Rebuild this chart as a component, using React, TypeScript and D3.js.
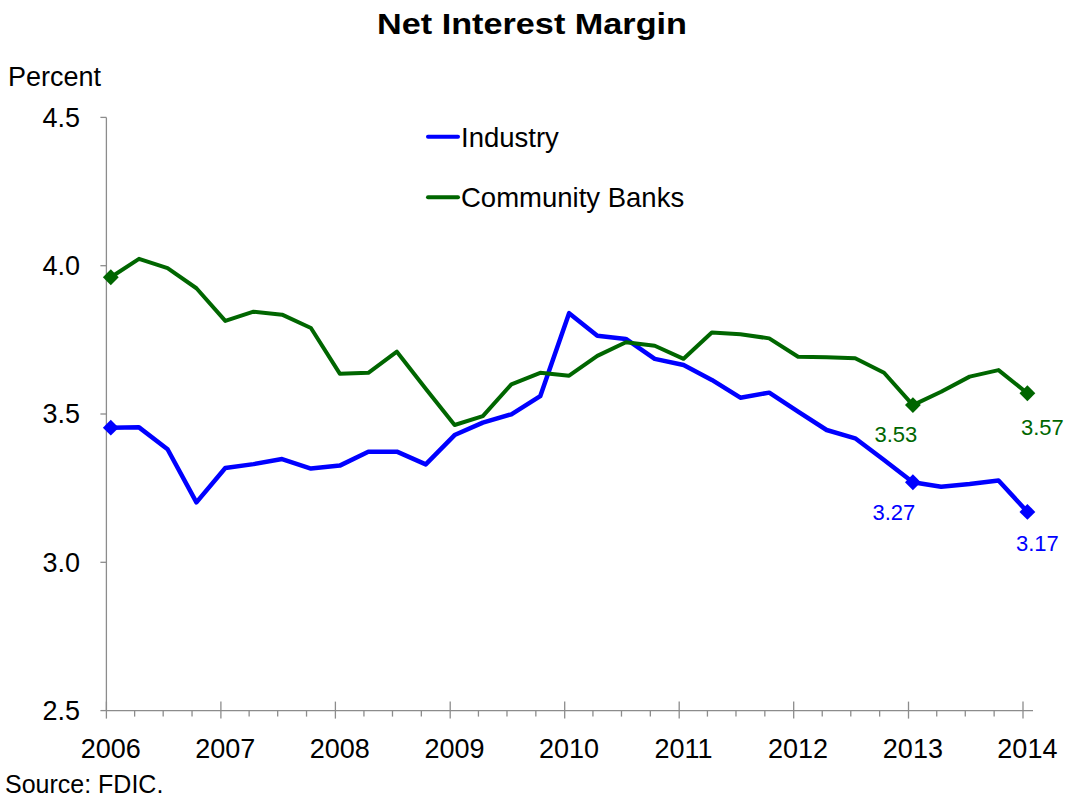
import React from "react";
import * as d3 from "d3";

const quarters: string[] = [
  "2006-01-15","2006-04-15","2006-07-15","2006-10-15",
  "2007-01-15","2007-04-15","2007-07-15","2007-10-15",
  "2008-01-15","2008-04-15","2008-07-15","2008-10-15",
  "2009-01-15","2009-04-15","2009-07-15","2009-10-15",
  "2010-01-15","2010-04-15","2010-07-15","2010-10-15",
  "2011-01-15","2011-04-15","2011-07-15","2011-10-15",
  "2012-01-15","2012-04-15","2012-07-15","2012-10-15",
  "2013-01-15","2013-04-15","2013-07-15","2013-10-15",
  "2014-01-15",
];

const industry: number[] = [
  3.454, 3.455, 3.381, 3.202, 3.318, 3.331, 3.348, 3.316,
  3.326, 3.373, 3.373, 3.330, 3.429, 3.471, 3.499, 3.560,
  3.840, 3.764, 3.753, 3.686, 3.665, 3.615, 3.555, 3.572,
  3.508, 3.446, 3.418, 3.345, 3.27, 3.255, 3.264, 3.276,
  3.17,
];

const community: number[] = [
  3.961, 4.023, 3.992, 3.924, 3.814, 3.845, 3.835, 3.790,
  3.636, 3.639, 3.710, 3.585, 3.463, 3.493, 3.600, 3.639,
  3.629, 3.696, 3.742, 3.730, 3.686, 3.775, 3.769, 3.755,
  3.693, 3.691, 3.688, 3.639, 3.53, 3.575, 3.626, 3.648,
  3.57,
];

const yTicks: number[] = [2.5, 3.0, 3.5, 4.0, 4.5];
const xYears: number[] = [2006, 2007, 2008, 2009, 2010, 2011, 2012, 2013, 2014];
const markerIdx: number[] = [0, 28, 32];
const labelIdx: number[] = [28, 32];

const BLUE = "#0000ff";
const GREEN = "#006600";
const AXIS = "#8c8c8c";
const FONT = "'Liberation Sans', Arial, Helvetica, sans-serif";

export default function App() {
  const W = 1067, H = 798;
  const parse = d3.timeParse("%Y-%m-%d");
  const dates = quarters.map((q) => parse(q) as Date);
  const x = d3
    .scaleTime()
    .domain([new Date(2006, 0, 1), new Date(2014, 0, 1)])
    .range([106.4, 1023]);
  const y = d3.scaleLinear().domain([2.5, 4.5]).range([710.6, 117.4]);
  const fmt = d3.format(".2f");
  const fmtY = d3.format(".1f");

  const line = d3
    .line<number>()
    .x((_, i) => x(dates[i]))
    .y((d) => y(d));

  const minorTicks = d3.timeMonth
    .every(3)!
    .range(new Date(2006, 0, 1), new Date(2014, 0, 2))
    .filter((d) => d.getMonth() !== 0);

  const diamond = d3.symbol().type(d3.symbolDiamond2).size(160)();

  const series = [
    { name: "Industry", values: industry, color: BLUE, width: 4.5,
      labelDx: [0, -19, 10], labelDy: [0, 38, 39.5] },
    { name: "Community Banks", values: community, color: GREEN, width: 4,
      labelDx: [0, -17, 15], labelDy: [0, 37, 42] },
  ];

  const x0 = x(new Date(2006, 0, 1));
  const xEnd = x(new Date(2014, 0, 1)) + 10;
  const yBottom = y(2.5);

  return (
    <svg
      width={W}
      height={H}
      style={{ position: "fixed", left: 0, top: 0, background: "#fff" }}
      fontFamily={FONT}
    >
      <rect width={W} height={H} fill="#fff" />
      <text x={532} y={34} textAnchor="middle" fontWeight="bold" fontSize={30}
        textLength={310} lengthAdjust="spacingAndGlyphs" fill="#000">
        Net Interest Margin
      </text>
      <text x={8} y={86} fontSize={27} fill="#000">Percent</text>

      {/* y axis */}
      <line x1={x0} x2={x0} y1={y(4.5)} y2={yBottom} stroke={AXIS} strokeWidth={1.3} />
      {yTicks.map((t) => (
        <g key={t}>
          <line x1={x0 - 6} x2={x0} y1={y(t)} y2={y(t)} stroke={AXIS} strokeWidth={1.3} />
          <text x={80} y={y(t)} dy="0.35em" textAnchor="end" fontSize={27} fill="#000">
            {fmtY(t)}
          </text>
        </g>
      ))}

      {/* x axis */}
      <line x1={x0} x2={xEnd} y1={yBottom} y2={yBottom} stroke={AXIS} strokeWidth={1.3} />
      {minorTicks.map((d, i) => (
        <line key={i} x1={x(d)} x2={x(d)} y1={yBottom} y2={yBottom + 6} stroke={AXIS} strokeWidth={1.3} />
      ))}
      {xYears.map((yr) => {
        const xx = x(new Date(yr, 0, 1));
        return (
          <g key={yr}>
            <line x1={xx} x2={xx} y1={yBottom - 9} y2={yBottom + 8} stroke={AXIS} strokeWidth={1.3} />
            <text x={x(new Date(yr, 0, 15))} y={758} textAnchor="middle" fontSize={27} fill="#000">
              {yr}
            </text>
          </g>
        );
      })}

      {/* series */}
      {series.map((s) => (
        <g key={s.name}>
          <path d={line(s.values) || ""} fill="none" stroke={s.color} strokeWidth={s.width}
            strokeLinejoin="round" />
          {markerIdx.map((i) => (
            <path key={i} d={diamond || ""} fill={s.color}
              transform={`translate(${x(dates[i])},${y(s.values[i])})`} />
          ))}
          {labelIdx.map((i, k) => (
            <text key={i} x={x(dates[i]) + s.labelDx[k + 1]} y={y(s.values[i]) + s.labelDy[k + 1]}
              textAnchor="middle" fontSize={22} fill={s.color}>
              {fmt(s.values[i])}
            </text>
          ))}
        </g>
      ))}

      {/* legend */}
      {series.map((s, i) => (
        <g key={s.name} transform={`translate(0,${i * 60.6})`}>
          <line x1={428} x2={458} y1={136.7} y2={136.7} stroke={s.color} strokeWidth={4} strokeLinecap="round" />
          <text x={461} y={146.5} fontSize={27.5} fill="#000">{s.name}</text>
        </g>
      ))}

      <text x={5} y={793} fontSize={25} fill="#000">Source: FDIC.</text>
    </svg>
  );
}
